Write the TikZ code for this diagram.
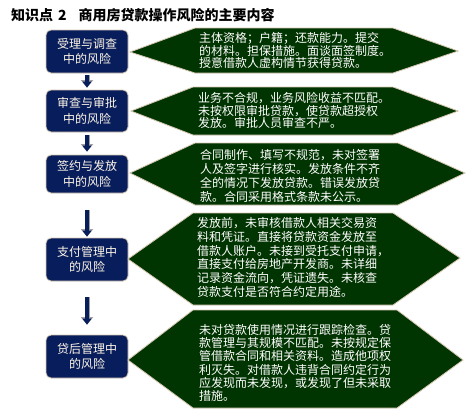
\documentclass[tikz,border=0pt]{standalone}
\usepackage{fontspec}
\setmainfont{Noto Sans CJK SC}
\usepackage{tikz}
\usetikzlibrary{arrows.meta}
\usetikzlibrary{positioning}

\definecolor{stagenavy}{RGB}{8,30,92}
\definecolor{riskgreen}{RGB}{0,52,0}
\definecolor{edgebeige}{RGB}{215,200,178}
\definecolor{textcream}{RGB}{255,246,230}

\tikzset{
  stage/.style={rectangle, rounded corners=5pt, fill=stagenavy, draw=edgebeige,
    line width=0.8pt, minimum width=82pt, text=textcream, align=center,
    font=\fontsize{12}{15.5}\selectfont},
  riskshape/.style={fill=riskgreen, draw=edgebeige, line width=0.8pt},
  risktext/.style={anchor=west, inner sep=0pt, text=white, align=left},
  flow/.style={draw=stagenavy, line width=3.2pt, -{Triangle[length=6pt,width=9pt]},
    preaction={draw=gray!75, line width=5pt, -{Triangle[length=7.5pt,width=12pt]}}}
}

\begin{document}
\begin{tikzpicture}[x=1pt,y=-1pt]
	\useasboundingbox (0,0) rectangle (476,416);
	\fill[white] (0,0) rectangle (476,416);
	\node[anchor=west, inner sep=0pt, font=\fontsize{14}{16}\selectfont\bfseries] (title) at (11,15)
		{知识点\hspace{5pt}2\hspace{12pt}商用房贷款操作风险的主要内容};

	% left column
	\node[stage, minimum height=43pt] (b1) at (87,51.5) {受理与调查\\中的风险};
	\node[stage, minimum height=42pt] (b2) at (87,111) {审查与审批\\中的风险};
	\node[stage, minimum height=38pt] (b3) at (87,174) {签约与发放\\中的风险};
	\node[stage, minimum height=43pt] (b4) at (87,259.5) {支付管理中\\的风险};
	\node[stage, minimum height=43pt] (b5) at (87,356.5) {贷后管理中\\的风险};

	\draw[flow, shorten <=2pt, shorten >=2pt] (b1) -- (b2);
	\draw[flow, shorten <=3pt, shorten >=3pt] (b2) -- (b3);
	\draw[flow, shorten <=17pt, shorten >=1pt] (b3) -- (b4);
	\draw[flow, shorten <=16pt, shorten >=10pt] (b4) -- (b5);

	% right column
	\draw[riskshape] (130,52) -- (195,28) -- (393,28) -- (458,51) -- (393,73) -- (195,73) -- cycle;
	\draw[riskshape] (131,111) -- (193,87) -- (393,87) -- (458,111) -- (393,135) -- (193,135) -- cycle;
	\draw[riskshape] (130,173) -- (195,143) -- (398,143) -- (465,173) -- (398,205) -- (195,205) -- cycle;
	\draw[riskshape] (128,259) -- (193,213) -- (393,213) -- (460,258) -- (393,305) -- (193,305) -- cycle;
	\draw[riskshape] (128,360) -- (193,310) -- (397,310) -- (463,360) -- (397,408) -- (193,408) -- cycle;

	\node[risktext, font=\fontsize{12}{12}\selectfont] (d1) at (199,50)
		{主体资格；户籍；还款能力。提交\\的材料。担保措施。面谈面签制度。\\授意借款人虚构情节获得贷款。};
	\node[risktext, font=\fontsize{12}{12.8}\selectfont] (d2) at (198,110.5)
		{业务不合规，业务风险收益不匹配。\\未按权限审批贷款，使贷款超授权\\发放。审批人员审查不严。};
	\node[risktext, font=\fontsize{12}{14}\selectfont] (d3) at (200,176)
		{合同制作、填写不规范，未对签署\\人及签字进行核实。发放条件不齐\\全的情况下发放贷款。错误发放贷\\款。合同采用格式条款未公示。};
	\node[risktext, font=\fontsize{12}{13.8}\selectfont] (d4) at (197,257.5)
		{发放前，未审核借款人相关交易资\\料和凭证。直接将贷款资金发放至\\借款人账户。未接到受托支付申请，\\直接支付给房地产开发商。未详细\\记录资金流向，凭证遗失。未核查\\贷款支付是否符合约定用途。};
	\node[risktext, font=\fontsize{12}{13.3}\selectfont] (d5) at (199,363)
		{未对贷款使用情况进行跟踪检查。贷\\款管理与其规模不匹配。未按规定保\\管借款合同和相关资料。造成他项权\\利灭失。对借款人违背合同约定行为\\应发现而未发现，或发现了但未采取\\措施。};
\end{tikzpicture}
\end{document}
